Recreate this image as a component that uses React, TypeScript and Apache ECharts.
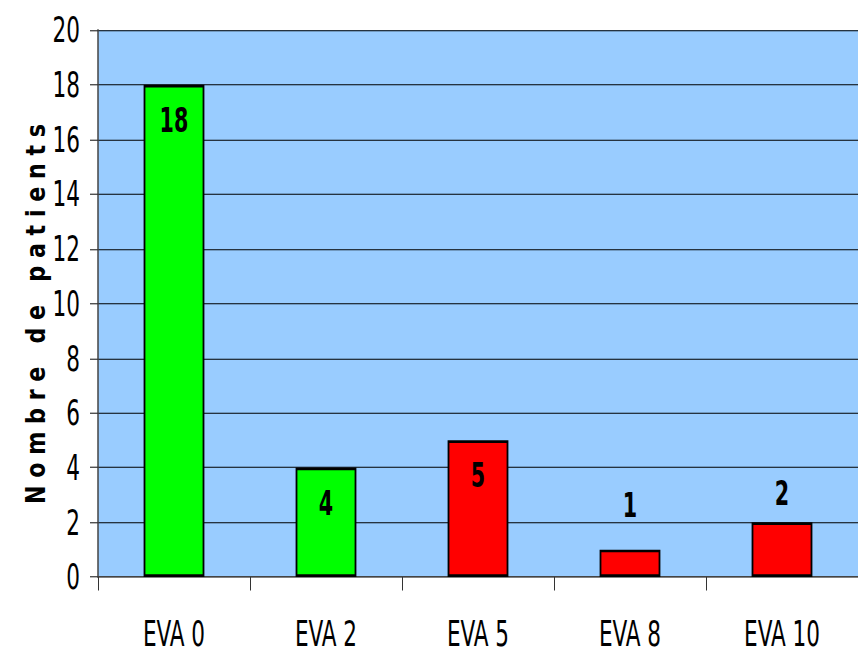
import React, { useEffect, useRef } from "react";
import * as echarts from "echarts";

const categories = ["EVA 0", "EVA 2", "EVA 5", "EVA 8", "EVA 10"];
const values = [18, 4, 5, 1, 2];
const barColors = ["#00FF00", "#00FF00", "#FF0000", "#FF0000", "#FF0000"];
const yTicks = { min: 0, max: 20, interval: 2 };
const yTitle = "N o m b r e   d e   p a t i e n t s";

// The reference uses a tall, narrow typeface; the chart is drawn at 1/S height and stretched by S.
const S = 1.5;
const W = 858;
const H = 654;
const FONT = "'DejaVu Sans Condensed', 'DejaVu Sans', sans-serif";
const TITLE_FONT = "bold 27px 'DejaVu Sans Condensed', 'DejaVu Sans', sans-serif";

export default function App() {
  const ref = useRef<HTMLDivElement>(null);
  useEffect(() => {
    if (!ref.current) return;
    const chart = echarts.init(ref.current, undefined, { renderer: "svg" });
    const data = values.map((v, i) => {
      const inside = v >= 4;
      return {
        value: v,
        itemStyle: { color: barColors[i] },
        label: inside
          ? { position: "insideTop", distance: 12 }
          : { position: "top", distance: v === 1 ? 18 : 8 },
      };
    });
    // measure title to fit its length (along the axis) to the reference
    let titleScale = 1;
    try {
      const t = new (echarts.graphic as any).Text({ style: { text: yTitle, font: TITLE_FONT } });
      const w = t.getBoundingRect().width;
      if (w > 0) titleScale = 380 / S / w;
    } catch (e) {
      titleScale = 0.7;
    }
    chart.setOption({
      animation: false,
      grid: {
        left: 98,
        right: 0,
        top: 30 / S,
        bottom: 77 / S,
        show: true,
        backgroundColor: "#99CCFF",
        borderWidth: 0,
      },
      graphic: [
        {
          type: "text",
          x: 36,
          y: 314 / S,
          rotation: Math.PI / 2,
          scaleX: titleScale,
          style: {
            text: yTitle,
            font: TITLE_FONT,
            fill: "#000",
            align: "center",
            verticalAlign: "middle",
          },
        },
      ],
      xAxis: {
        type: "category",
        data: categories,
        axisLine: { show: true, lineStyle: { color: "#444", width: 1 } },
        axisTick: { show: true, alignWithLabel: false, length: 9, lineStyle: { color: "#333", width: 1 } },
        axisLabel: { fontFamily: FONT, fontSize: 24, color: "#000", margin: 26 },
      },
      yAxis: {
        type: "value",
        min: yTicks.min,
        max: yTicks.max,
        interval: yTicks.interval,
        axisLine: { show: true, lineStyle: { color: "#444", width: 1.5 } },
        axisTick: { show: true, length: 8, lineStyle: { color: "#333", width: 0.8 } },
        axisLabel: { fontFamily: FONT, fontSize: 24, color: "#000", margin: 18 },
        splitLine: { show: true, lineStyle: { color: "#000", width: 0.7 } },
      },
      series: [
        {
          type: "bar",
          data,
          barWidth: "40%",
          itemStyle: { borderColor: "#000", borderWidth: 1.8 },
          label: {
            show: true,
            fontFamily: FONT,
            fontWeight: "bold",
            fontSize: 23,
            color: "#000",
          },
        },
      ],
    });
    return () => chart.dispose();
  }, []);
  return (
    <div style={{ position: "fixed", left: 0, top: 0, width: W, height: H, background: "#fff", overflow: "hidden" }}>
      <div
        ref={ref}
        style={{
          position: "absolute",
          left: 0,
          top: 0,
          width: W,
          height: H / S,
          transformOrigin: "0 0",
          transform: `scaleY(${S})`,
        }}
      />
    </div>
  );
}
